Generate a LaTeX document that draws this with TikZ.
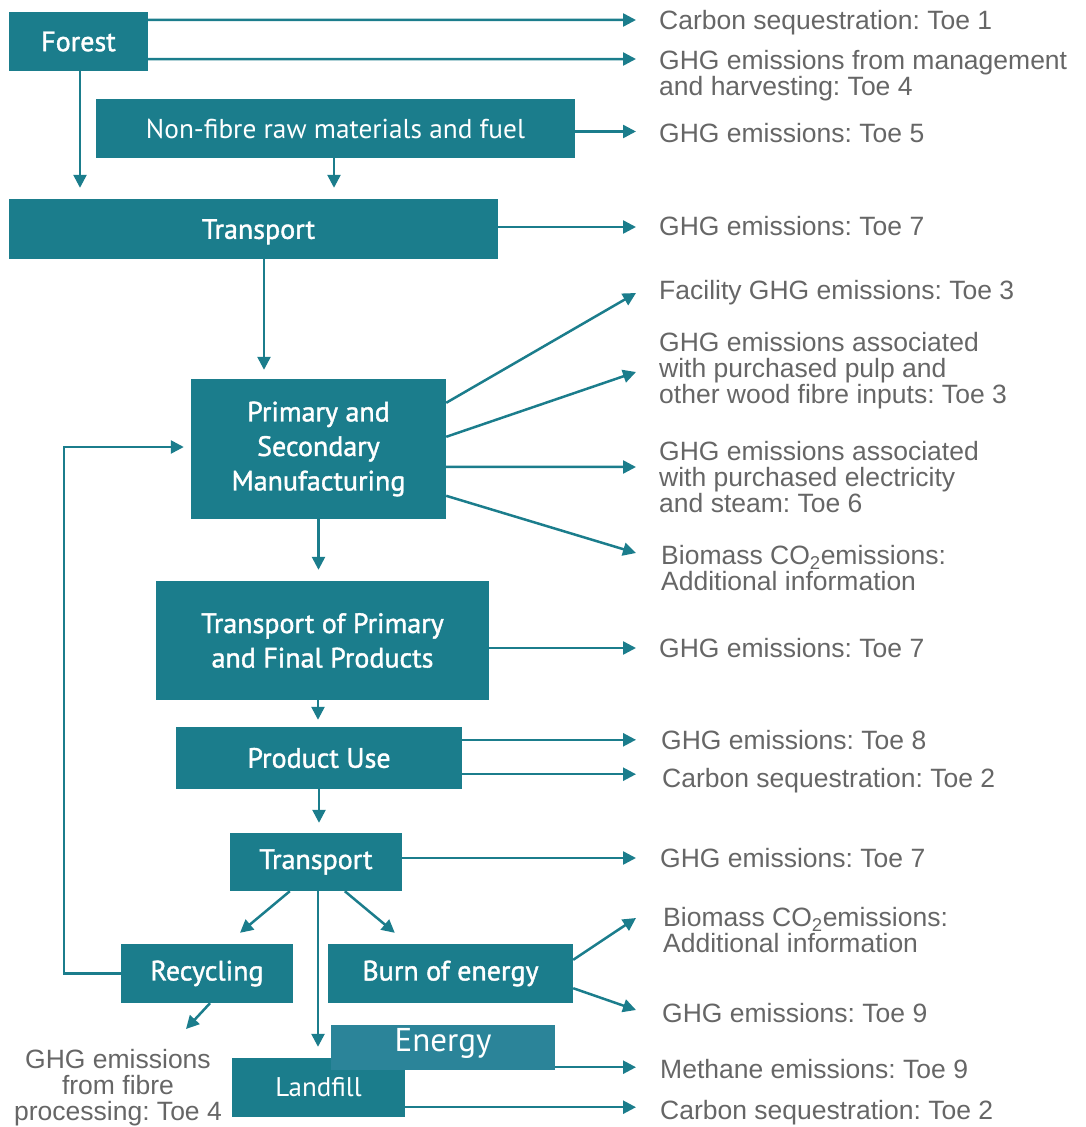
\documentclass[tikz,border=0pt]{standalone}
\usepackage{fontspec}
\setmainfont{Liberation Sans}
\newfontfamily\boxfont{PT Sans}
\newfontfamily\boxsemi[FakeBold=1.4]{PT Sans}
\usetikzlibrary{arrows.meta,calc}
\definecolor{tealbox}{HTML}{1B7D8C}
\definecolor{tealenergy}{HTML}{2B8499}
\definecolor{labgrey}{HTML}{666666}
\begin{document}
\frenchspacing
\begin{tikzpicture}[x=1pt,y=-1pt,
  box/.style={fill=tealbox, text=white, inner sep=0pt, align=center,
    font=\boxsemi\fontsize{28}{34.5}\selectfont},
  boxreg/.style={box, font=\boxfont\fontsize{27.3}{34.5}\selectfont},
  lab/.style={anchor=north west, inner sep=0pt, align=left, text=labgrey,
    font=\frenchspacing\fontsize{26.5}{26}\selectfont},
  arr/.style={draw=tealbox, line width=2.5pt,
    -{Triangle[length=13pt,width=13pt]}},
  ln/.style={draw=tealbox, line width=2.5pt}]
\useasboundingbox (0,0) rectangle (1085,1127);
\coordinate (rx) at (636,0);

% boxes
\node[box, minimum width=139pt, minimum height=59pt] (forest) at (78.5,41.5) {Forest};
\node[boxreg, minimum width=479pt, minimum height=59pt] (nonfibre) at (335.5,128.5) {Non-fibre raw materials and fuel};
\node[box, minimum width=489pt, minimum height=60pt, text depth=0pt] (trans1) at (253.5,229) {\hspace*{10pt}Transport};
\node[box, minimum width=255pt, minimum height=140pt] (prim) at (318.5,449) {Primary and\\Secondary\\Manufacturing};
\node[box, minimum width=333pt, minimum height=119pt] (tpp) at (322.5,640.5) {Transport of Primary\\and Final Products};
\node[box, minimum width=286pt, minimum height=62pt] (use) at (319,758) {Product Use};
\node[box, minimum width=172pt, minimum height=58pt] (trans2) at (316,862) {Transport};
\node[box, minimum width=172pt, minimum height=59pt] (recyc) at (207,973.5) {Recycling};
\node[box, minimum width=245pt, minimum height=59pt] (burn) at (450.5,973.5) {Burn of energy};
\node[boxreg, font=\boxfont\fontsize{27}{30}\selectfont, minimum width=173pt, minimum height=59pt] (landfill) at (318.5,1087.5) {Landfill};
\node[boxreg, fill=tealenergy, font=\boxfont\fontsize{33}{36}\selectfont, text height=24.5pt, text depth=17.5pt, minimum width=224pt, minimum height=45pt] (energy) at (443,1047.5) {Energy};

% labels
\node[lab] (l1) at (659,10.5) {Carbon sequestration: Toe 1};
\node[lab] (l2) at (659,50) {GHG emissions from management\\and harvesting: Toe 4};
\node[lab] (l3) at (659,123.5) {GHG emissions: Toe 5};
\node[lab] (l4) at (659,216.5) {GHG emissions: Toe 7};
\node[lab] (l5) at (659,280.5) {Facility GHG emissions: Toe 3};
\node[lab] (l6) at (659,332.5) {GHG emissions associated\\with purchased pulp and\\other wood fibre inputs: Toe 3};
\node[lab] (l7) at (659,441.5) {GHG emissions associated\\with purchased electricity\\and steam: Toe 6};
\node[lab] (l8) at (661,545.5) {Biomass CO\textsubscript{2}emissions:\\Additional information};
\node[lab] (l9) at (659,638.5) {GHG emissions: Toe 7};
\node[lab] (l10) at (661,730.5) {GHG emissions: Toe 8};
\node[lab] (l11) at (662,768.5) {Carbon sequestration: Toe 2};
\node[lab] (l12) at (660,848.5) {GHG emissions: Toe 7};
\node[lab] (l13) at (663,907.5) {Biomass CO\textsubscript{2}emissions:\\Additional information};
\node[lab] (l14) at (662,1003.5) {GHG emissions: Toe 9};
\node[lab] (l15) at (660,1059.5) {Methane emissions: Toe 9};
\node[lab] (l16) at (660,1100.5) {Carbon sequestration: Toe 2};
\node[lab, anchor=north, align=center] (l17) at (118,1049.5) {GHG emissions\\from fibre\\processing: Toe 4};

% arrow tips (free ends)
\coordinate (t1) at (636,20);
\coordinate (t2) at (636,59);
\coordinate (t5) at (636,293);
\coordinate (t6) at (636,372);
\coordinate (t7) at (636,467);
\coordinate (t8) at (636,553);
\coordinate (t13) at (636,918);
\coordinate (t14) at (636,1010);
\coordinate (t17) at (186,1029);

% start points
\coordinate (sNF) at ($(nonfibre.east)+(0,3)$);
\coordinate (sFd) at ($(forest.south)+(1.5,0)$);
\coordinate (sNFd) at ($(nonfibre.south)+(-1.5,0)$);
\coordinate (sT1) at ($(trans1.east)+(0,-2)$);
\coordinate (sT1d) at ($(trans1.south)+(10.5,0)$);
\coordinate (sTP) at ($(tpp.east)+(0,7.5)$);
\coordinate (sTPd) at ($(tpp.south)+(-4.5,0)$);
\coordinate (sU1) at ($(use.north east)+(0,13)$);
\coordinate (sU2) at ($(use.south east)+(0,-15)$);
\coordinate (sT2) at ($(trans2.east)+(0,-4)$);
\coordinate (sT2d) at ($(trans2.south)+(2,0)$);
\coordinate (sE) at ($(energy.south east)+(0,-3)$);
\coordinate (sL) at ($(landfill.south east)+(0,-10)$);

% connectors
\draw[arr] ($(forest.north east)+(0,8)$) -- (t1);
\draw[arr] ($(forest.south east)+(0,-12)$) -- (t2);
\draw[arr] (sNF) -- (sNF -| rx);
\draw[arr, shorten >=11pt] (sFd) -- (sFd |- trans1.north);
\draw[arr, shorten >=11pt] (sNFd) -- (sNFd |- trans1.north);
\draw[arr] (sT1) -- (sT1 -| rx);
\draw[arr, shorten >=9pt] (sT1d) -- (sT1d |- prim.north);
\draw[arr] ($(prim.north east)+(0,24)$) -- (t5);
\draw[arr] ($(prim.north east)+(0,58)$) -- (t6);
\draw[arr] ($(prim.north east)+(0,88)$) -- (t7);
\draw[arr] ($(prim.north east)+(0,117)$) -- (t8);
\draw[arr, shorten >=11pt] (prim.south) -- (prim.south |- tpp.north);
\draw[arr] (sTP) -- (sTP -| rx);
\draw[arr, shorten >=7pt] (sTPd) -- (sTPd |- use.north);
\draw[arr] (sU1) -- (sU1 -| rx);
\draw[arr] (sU2) -- (sU2 -| rx);
\draw[arr, shorten >=10pt] (use.south) -- (use.south |- trans2.north);
\draw[arr] (sT2) -- (sT2 -| rx);
\draw[arr] ($(trans2.south west)+(60,0)$) -- ($(recyc.north)+(33,-11)$);
\draw[arr] ($(trans2.south west)+(115,0)$) -- ($(burn.north west)+(67,-11)$);
\draw[arr, shorten >=11pt] (sT2d) -- (sT2d |- landfill.north);
\draw[arr, shorten >=7pt] (recyc.west) -- ++(-57,0) |- ($(prim.west)+(0,-2)$);
\draw[arr] ($(recyc.south)+(3,0)$) -- (t17);
\draw[arr] ($(burn.north east)+(0,16)$) -- (t13);
\draw[arr] ($(burn.south east)+(0,-15)$) -- (t14);
\draw[arr] (sE) -- (sE -| rx);
\draw[arr] (sL) -- (sL -| rx);
\end{tikzpicture}
\end{document}
